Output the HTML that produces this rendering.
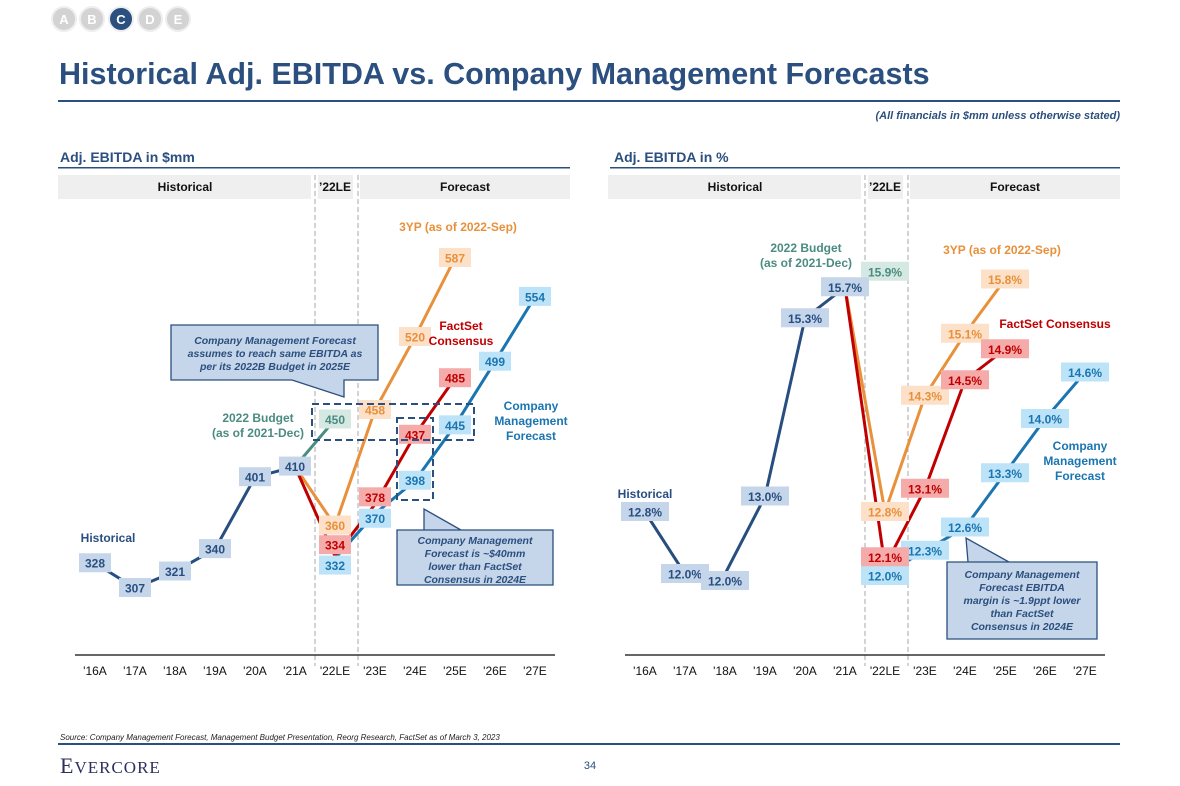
<!DOCTYPE html>
<html><head><meta charset="utf-8">
<style>
body{margin:0;background:#fff;width:1180px;height:786px;overflow:hidden;font-family:"Liberation Sans",Arial,sans-serif}
svg{position:absolute;left:0;top:0}
text{font-family:"Liberation Sans",Arial,sans-serif}
</style></head>
<body>
<svg id="s" width="1180" height="786" viewBox="0 0 1180 786">
<g>
<circle cx="64" cy="19" r="12" fill="#d3d3d3" stroke="#eee" stroke-width="2"/><text x="64" y="24" text-anchor="middle" font-size="13" font-weight="bold" fill="#fff">A</text>
<circle cx="92" cy="19" r="12" fill="#d3d3d3" stroke="#eee" stroke-width="2"/><text x="92" y="24" text-anchor="middle" font-size="13" font-weight="bold" fill="#fff">B</text>
<circle cx="121" cy="19" r="12" fill="#2b4f7e" stroke="#eee" stroke-width="2"/><text x="121" y="24" text-anchor="middle" font-size="13" font-weight="bold" fill="#fff">C</text>
<circle cx="150" cy="19" r="12" fill="#d3d3d3" stroke="#eee" stroke-width="2"/><text x="150" y="24" text-anchor="middle" font-size="13" font-weight="bold" fill="#fff">D</text>
<circle cx="178" cy="19" r="12" fill="#d3d3d3" stroke="#eee" stroke-width="2"/><text x="178" y="24" text-anchor="middle" font-size="13" font-weight="bold" fill="#fff">E</text>
</g>
<text x="59" y="84" font-size="30.5" font-weight="bold" fill="#2b4f7e">Historical Adj. EBITDA vs. Company Management Forecasts</text>
<rect x="58" y="100" width="1062" height="2" fill="#2b4f7e"/>
<text x="1120" y="119" text-anchor="end" font-size="11" font-weight="bold" font-style="italic" fill="#2b4f7e">(All financials in $mm unless otherwise stated)</text>

<text x="60" y="162" font-size="14" font-weight="bold" fill="#2b4f7e">Adj. EBITDA in $mm</text>
<rect x="58" y="167" width="512" height="1.5" fill="#2b4f7e"/>
<text x="614" y="162" font-size="14" font-weight="bold" fill="#2b4f7e">Adj. EBITDA in %</text>
<rect x="610" y="167" width="510" height="1.5" fill="#2b4f7e"/>

<g id="left"></g>
<g id="right"></g>

<text x="60" y="740" font-size="8" font-style="italic" fill="#222">Source: Company Management Forecast, Management Budget Presentation, Reorg Research, FactSet as of March 3, 2023</text>
<rect x="58" y="743" width="1062" height="2" fill="#2b4f7e"/>
<text x="60" y="773" style="font-family:'Liberation Serif',serif" font-size="22" fill="#2d2f5e" letter-spacing="1">E<tspan font-size="17">VERCORE</tspan></text>
<text x="590" y="769" text-anchor="middle" font-size="11" fill="#2b4f7e">34</text>
</svg>
<script>
const NS="http://www.w3.org/2000/svg";
const categories=["'16A","'17A","'18A","'19A","'20A","'21A","'22LE","'23E","'24E","'25E","'26E","'27E"];
// Left chart ($mm)
const lHist=[328,307,321,340,401,410];
const lBudget=[410,450];
const l3yp=[410,360,458,520,587];
const lFact=[410,334,378,437,485];
const lMgmt=[332,370,398,445,499,554];
// Right chart (%)
const rHist=[12.8,12.0,12.0,13.0,15.3,15.7];
const rBudget=[15.7,15.9];
const r3yp=[15.7,12.8,14.3,15.1,15.8];
const rFact=[15.7,12.1,13.1,14.5,14.9];
const rMgmt=[12.0,12.3,12.6,13.3,14.0,14.6];

function el(p,tag,a){const e=document.createElementNS(NS,tag);for(const k in a)e.setAttribute(k,a[k]);p.appendChild(e);return e;}
function txt(p,x,y,s,a){const t=el(p,'text',Object.assign({x:x,y:y},a));t.textContent=s;return t;}

const C={hist:['#284e80','#c5d5ea','#284e80'],bud:['#4a8c80','#d6e8e2','#4a8c80'],y3:['#e8903a','#fce0c8','#e8903a'],fs:['#c00000','#f6abab','#c00000'],mg:['#1a75b0','#bde3f8','#1a75b0']};

function chart(g,x0,yf,fmt,series){
  const xs=i=>x0+i*40;
  const hb=el(g,'rect',{x:x0-37,y:175,width:253,height:24,fill:'#efefef'});
  
  el(g,'rect',{x:x0+223,y:175,width:35,height:24,fill:'#efefef'});
  el(g,'rect',{x:x0+265,y:175,width:210,height:24,fill:'#efefef'});
  txt(g,x0+90,191,'Historical',{'text-anchor':'middle','font-size':12,'font-weight':'bold',fill:'#111'});
  txt(g,x0+240,191,"’22LE",{'text-anchor':'middle','font-size':12,'font-weight':'bold',fill:'#111'});
  txt(g,x0+370,191,'Forecast',{'text-anchor':'middle','font-size':12,'font-weight':'bold',fill:'#111'});
  [x0+220,x0+263].forEach(x=>{const l=el(g,'line',{x1:x,y1:175,x2:x,y2:666,stroke:'#aaa','stroke-dasharray':'5,3','stroke-width':1});
    });
  const ax=el(g,'line',{x1:x0-20,y1:655,x2:x0+460,y2:655,stroke:'#333','stroke-width':1.5});
  
  categories.forEach((c,i)=>{const t=txt(g,xs(i),675,c,{'text-anchor':'middle','font-size':12,fill:'#111'});
    });
  const labels=[];
  series.forEach(s=>{
    const pts=s.vals.map((v,i)=>[xs(s.start+i),yf(v)]);
    const pl=el(g,'polyline',{points:pts.map(p=>p.join(',')).join(' '),fill:'none',stroke:C[s.c][0],'stroke-width':3});
    
    s.vals.forEach((v,i)=>{if(s.skip&&s.skip.includes(i))return;labels.push([pts[i][0],pts[i][1]+((s.off&&s.off[i])||0),fmt(v),s.c,s.name]);});
  });
  labels.forEach(L=>{
    const w=fmt===String?32:48;
    const r=el(g,'rect',{x:L[0]-w/2,y:L[1]-10,width:w,height:19,fill:C[L[3]][1]});
    
    txt(g,L[0],L[1]+4.5,L[2],{'text-anchor':'middle','font-size':12,'font-weight':'bold',fill:C[L[3]][2]});
  });
}
const L=document.getElementById('left'),R=document.getElementById('right');
const yl=v=>588-(v-307)*1.1786;
chart(L,95,yl,String,[
 {name:'budget',c:'bud',vals:lBudget,start:5,skip:[0]},
 {name:'three-year-plan',c:'y3',vals:l3yp,start:5,skip:[0]},
 {name:'management',c:'mg',vals:lMgmt,start:6,off:{0:7,1:5}},
 {name:'factset',c:'fs',vals:lFact,start:5,skip:[0],off:{1:-11,2:-7}},
 {name:'historical',c:'hist',vals:lHist,start:0}
]);
const yr=v=>574-(v-12)*77.5;
const pct=v=>v.toFixed(1)+'%';
chart(R,645,yr,pct,[
 {name:'budget',c:'bud',vals:rBudget,start:5,skip:[0]},
 {name:'three-year-plan',c:'y3',vals:r3yp,start:5,skip:[0]},
 {name:'management',c:'mg',vals:rMgmt,start:6,off:{0:2}},
 {name:'factset',c:'fs',vals:rFact,start:5,skip:[0],off:{1:-9}},
 {name:'historical',c:'hist',vals:rHist,start:0,off:{2:7}}
]);
function ann(g,x,y,lines,color,anchor,name){const t=el(g,'text',{x:x,y:y,'text-anchor':anchor||'middle','font-size':12,'font-weight':'bold',fill:color});
 
 lines.forEach((s,i)=>{const ts=el(t,'tspan',{x:x,dy:i?15:0});ts.textContent=s;});}
ann(L,108,542,['Historical'],'#284e80','middle','historical-series-label');
ann(L,258,422,['2022 Budget','(as of 2021-Dec)'],'#4a8c80','middle','budget-series-label');
ann(L,458,231,['3YP (as of 2022-Sep)'],'#e8903a','middle','three-year-plan-series-label');
ann(L,461,330,['FactSet','Consensus'],'#c00000','middle','factset-series-label');
ann(L,531,410,['Company','Management','Forecast'],'#1a75b0','middle','management-series-label');
ann(R,645,498,['Historical'],'#284e80','middle','historical-series-label');
ann(R,806,252,['2022 Budget','(as of 2021-Dec)'],'#4a8c80','middle','budget-series-label');
ann(R,1002,254,['3YP (as of 2022-Sep)'],'#e8903a','middle','three-year-plan-series-label');
ann(R,1055,328,['FactSet Consensus'],'#c00000','middle','factset-series-label');
ann(R,1080,450,['Company','Management','Forecast'],'#1a75b0','middle','management-series-label');
[[L,312,404,162,36],[L,397,418,36,82]].forEach(b=>{const r=el(b[0],'rect',{x:b[1],y:b[2],width:b[3],height:b[4],fill:'none',stroke:'#2b4f7e','stroke-width':2,'stroke-dasharray':'7,4'});
 });
function callout(g,path,x,y,lines,name){const p=el(g,'path',{d:path,fill:'#c5d5ea',stroke:'#2b4f7e','stroke-width':1.3});
 
 const t=el(g,'text',{x:x,y:y,'text-anchor':'middle','font-size':10.5,'font-weight':'bold','font-style':'italic',fill:'#2b4f7e'});
 lines.forEach((s,i)=>{const ts=el(t,'tspan',{x:x,dy:i?13:0});ts.textContent=s;});}
callout(L,'M171,325 H378 V380 H344 V397 L292,380 H171 Z',275,344,['Company Management Forecast','assumes to reach same EBITDA as','per its 2022B Budget in 2025E'],'callout-budget-2025');
callout(L,'M397,530 H553 V585 H397 Z M424,530 V509 L461,530 Z',475,544,['Company Management','Forecast is ~$40mm','lower than FactSet','Consensus in 2024E'],'callout-2024-gap');
callout(R,'M947,562 H1097 V639 H947 Z M968,562 L966,538 L1009,562 Z',1022,578,['Company Management','Forecast EBITDA','margin is ~1.9ppt lower','than FactSet','Consensus in 2024E'],'callout-margin-gap');
</script>
</body></html>
